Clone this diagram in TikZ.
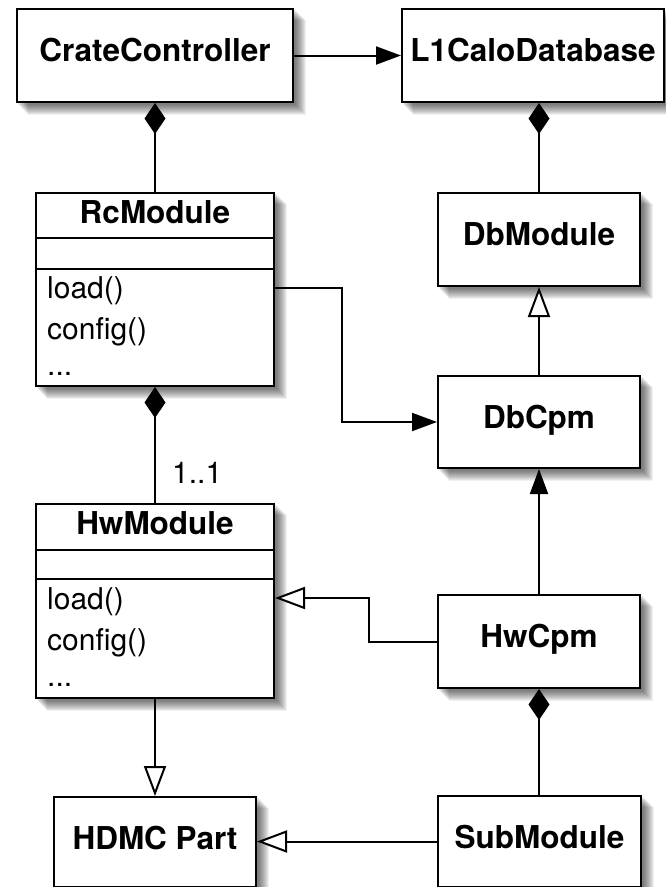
\documentclass[tikz,border=0pt]{standalone}
\usepackage{fontspec}
\setmainfont{TeX Gyre Heros}
\usetikzlibrary{arrows.meta,backgrounds}
\begin{document}
\begin{tikzpicture}[x=1pt,y=-1pt,
  umlbox/.style={draw,line width=2pt,fill=white,inner sep=0pt,anchor=north west},
  nametext/.style={font=\fontsize{31.5}{36}\selectfont\bfseries,anchor=base,inner sep=0pt},
  methtext/.style={font=\fontsize{30}{36}\selectfont,anchor=base west,inner sep=0pt},
  conn/.style={line width=2pt},
  shadowlayer/.style={fill=black,opacity=0.06},
  navarrow/.style={-{Triangle[length=25pt,width=18pt]}},
  genarrow/.style={-{Triangle[open,length=30pt,width=22pt,fill=white]}},
  comparrow/.style={{Diamond[length=31pt,width=21pt]}-},
]
\useasboundingbox (0,0) rectangle (665,887);

% boxes
\node[umlbox,minimum width=276pt,minimum height=93pt] (cc) at (16,8) {};
\node[umlbox,minimum width=262pt,minimum height=93pt] (l1) at (401,8) {};
\node[umlbox,minimum width=238pt,minimum height=193pt] (rc) at (35,192) {};
\node[umlbox,minimum width=202pt,minimum height=93pt] (dbm) at (437,192) {};
\node[umlbox,minimum width=202pt,minimum height=92pt] (dbc) at (437,375) {};
\node[umlbox,minimum width=238pt,minimum height=194pt] (hw) at (35,503) {};
\node[umlbox,minimum width=202pt,minimum height=93pt] (hwc) at (437,594) {};
\node[umlbox,minimum width=202pt,minimum height=90pt] (hdmc) at (53,796) {};
\node[umlbox,minimum width=203pt,minimum height=91pt] (sub) at (437,795) {};

% soft shadows behind the boxes
\begin{pgfonlayer}{background}
\fill[white] (0,0) rectangle (665,887);
\foreach \n in {cc,l1,rc,dbm,dbc,hw,hwc,hdmc,sub}{
  \foreach \k in {2,...,12}{
    \fill[shadowlayer] ([shift={(\k,\k)}]\n.north west) rectangle ([shift={(\k,\k)}]\n.south east);
  }
}
\end{pgfonlayer}

% names
\node[nametext] (cct) at ([yshift=-53pt]cc.north) {CrateController};
\node[nametext] (l1t) at ([yshift=-53pt]l1.north) {L1CaloDatabase};
\node[nametext] (dbmt) at ([yshift=-53pt]dbm.north) {DbModule};
\node[nametext] (dbct) at ([yshift=-53pt]dbc.north) {DbCpm};
\node[nametext] (hwct) at ([yshift=-53pt]hwc.north) {HwCpm};
\node[nametext] (hdmct) at ([yshift=-53pt]hdmc.north) {HDMC Part};
\node[nametext] (subt) at ([yshift=-53pt]sub.north) {SubModule};

% class compartments
\node[nametext] (rct) at ([yshift=-31pt]rc.north) {RcModule};
\draw[conn] ([yshift=-46pt]rc.north west) -- ([yshift=-46pt]rc.north east);
\draw[conn] ([yshift=-77pt]rc.north west) -- ([yshift=-77pt]rc.north east);
\node[methtext] (rcm1) at ([xshift=12pt,yshift=-106pt]rc.north west) {load()};
\node[methtext] (rcm2) at ([xshift=12pt,yshift=-147pt]rc.north west) {config()};
\node[methtext] (rcm3) at ([xshift=12pt,yshift=-183pt]rc.north west) {...};

\node[nametext] (hwt) at ([yshift=-31pt]hw.north) {HwModule};
\draw[conn] ([yshift=-47pt]hw.north west) -- ([yshift=-47pt]hw.north east);
\draw[conn] ([yshift=-76pt]hw.north west) -- ([yshift=-76pt]hw.north east);
\node[methtext] (hwm1) at ([xshift=12pt,yshift=-106pt]hw.north west) {load()};
\node[methtext] (hwm2) at ([xshift=12pt,yshift=-147pt]hw.north west) {config()};
\node[methtext] (hwm3) at ([xshift=12pt,yshift=-183pt]hw.north west) {...};

% connectors
\draw[conn,navarrow] (cc.east) -- (l1.west);
\draw[conn,comparrow] (cc.south) -- (cc.south |- rc.north);
\draw[conn,comparrow] (dbm.north |- l1.south) -- (dbm.north);
\draw[conn,genarrow] (dbc.north) -- (dbm.south);
\draw[conn,navarrow] ([yshift=-96pt]rc.north east) -- ++(67,0) |- (dbc.west);
\draw[conn,comparrow] (rc.south) -- (hw.north);
\node[methtext] (mult) at (172,483) {1..1};
\draw[conn,navarrow] (hwc.north) -- (dbc.south);
\draw[conn,genarrow] (hwc.west) -- ++(-68,0) |- ([yshift=-95pt]hw.north east);
\draw[conn,comparrow] (hwc.south) -- (hwc.south |- sub.north);
\draw[conn,genarrow] (hw.south) -- (hw.south |- hdmc.north);
\draw[conn,genarrow] (sub.west) -- (sub.west -| hdmc.east);
\end{tikzpicture}
\end{document}
